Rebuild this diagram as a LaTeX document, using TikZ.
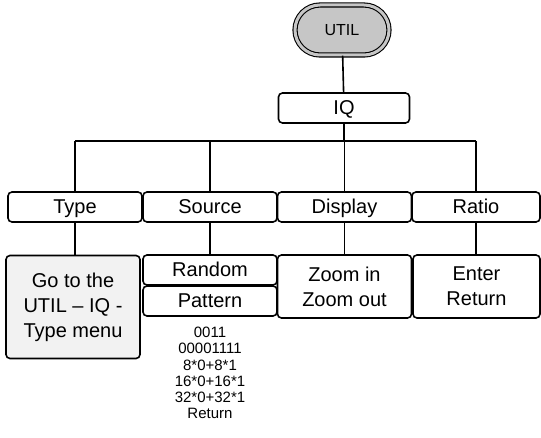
\documentclass[tikz,border=0pt]{standalone}
\usepackage{fontspec}
\setmainfont{Liberation Sans}
\begin{document}
\begin{tikzpicture}[x=1pt,y=-1pt,
  box/.style={draw, line width=1.6pt, rounded corners=4pt, inner sep=0pt, font=\fontsize{20}{25}\selectfont, align=center},
  one/.style={box, text height=18pt, text depth=4pt, minimum height=30pt},
  conn/.style={line width=1.6pt}]
\useasboundingbox (0,0) rectangle (541,438);
\node[draw, line width=1.1pt, double=gray!45, double distance=3pt, fill=gray!45, rounded corners=25pt, minimum width=94pt, minimum height=50pt, inner sep=0pt, font=\fontsize{16}{19}\selectfont] (util) at (342,30) {UTIL};
\node[one, minimum width=131pt] (iq) at (344,108) {IQ};
\node[one, minimum width=134pt] (type) at (75,207) {Type};
\node[one, minimum width=134pt] (source) at (210,207) {Source};
\node[one, minimum width=134pt] (display) at (344.5,207) {Display};
\node[one, minimum width=128pt] (ratio) at (476,207) {Ratio};
\node[box, fill=gray!10, minimum width=134pt, minimum height=103pt] (goto) at (73,307) {Go to the\\UTIL – IQ -\\Type menu};
\node[one, minimum width=134pt] (random) at (210,270) {Random};
\node[one, minimum width=134pt] (pattern) at (210,301) {Pattern};
\node[box, minimum width=134pt, minimum height=63pt] (zoom) at (344.5,286.5) {Zoom in\\Zoom out};
\node[box, minimum width=127pt, minimum height=63pt] (enter) at (476.5,286.5) {Enter\\Return};
\node[inner sep=0pt, align=center, font=\fontsize{15}{16.2}\selectfont] (plist) at (210,373) {0011\\00001111\\8*0+8*1\\16*0+16*1\\32*0+32*1\\Return};
\coordinate (bar) at (0,141);
\draw[conn] (util) -- (iq);
\draw[conn] (iq.south) -- (iq.south|-bar);
\draw[conn] (type.north|-bar) -- (ratio.north|-bar);
\foreach \n in {type,source,display,ratio} \draw[conn] (\n.north|-bar) -- (\n.north);
\draw[conn] (type.south) -- (type.south|-goto.north);
\draw[conn] (source.south) -- (random.north);
\draw[conn] (display.south) -- (zoom.north);
\draw[conn] (ratio.south) -- (ratio.south|-enter.north);
\end{tikzpicture}
\end{document}
